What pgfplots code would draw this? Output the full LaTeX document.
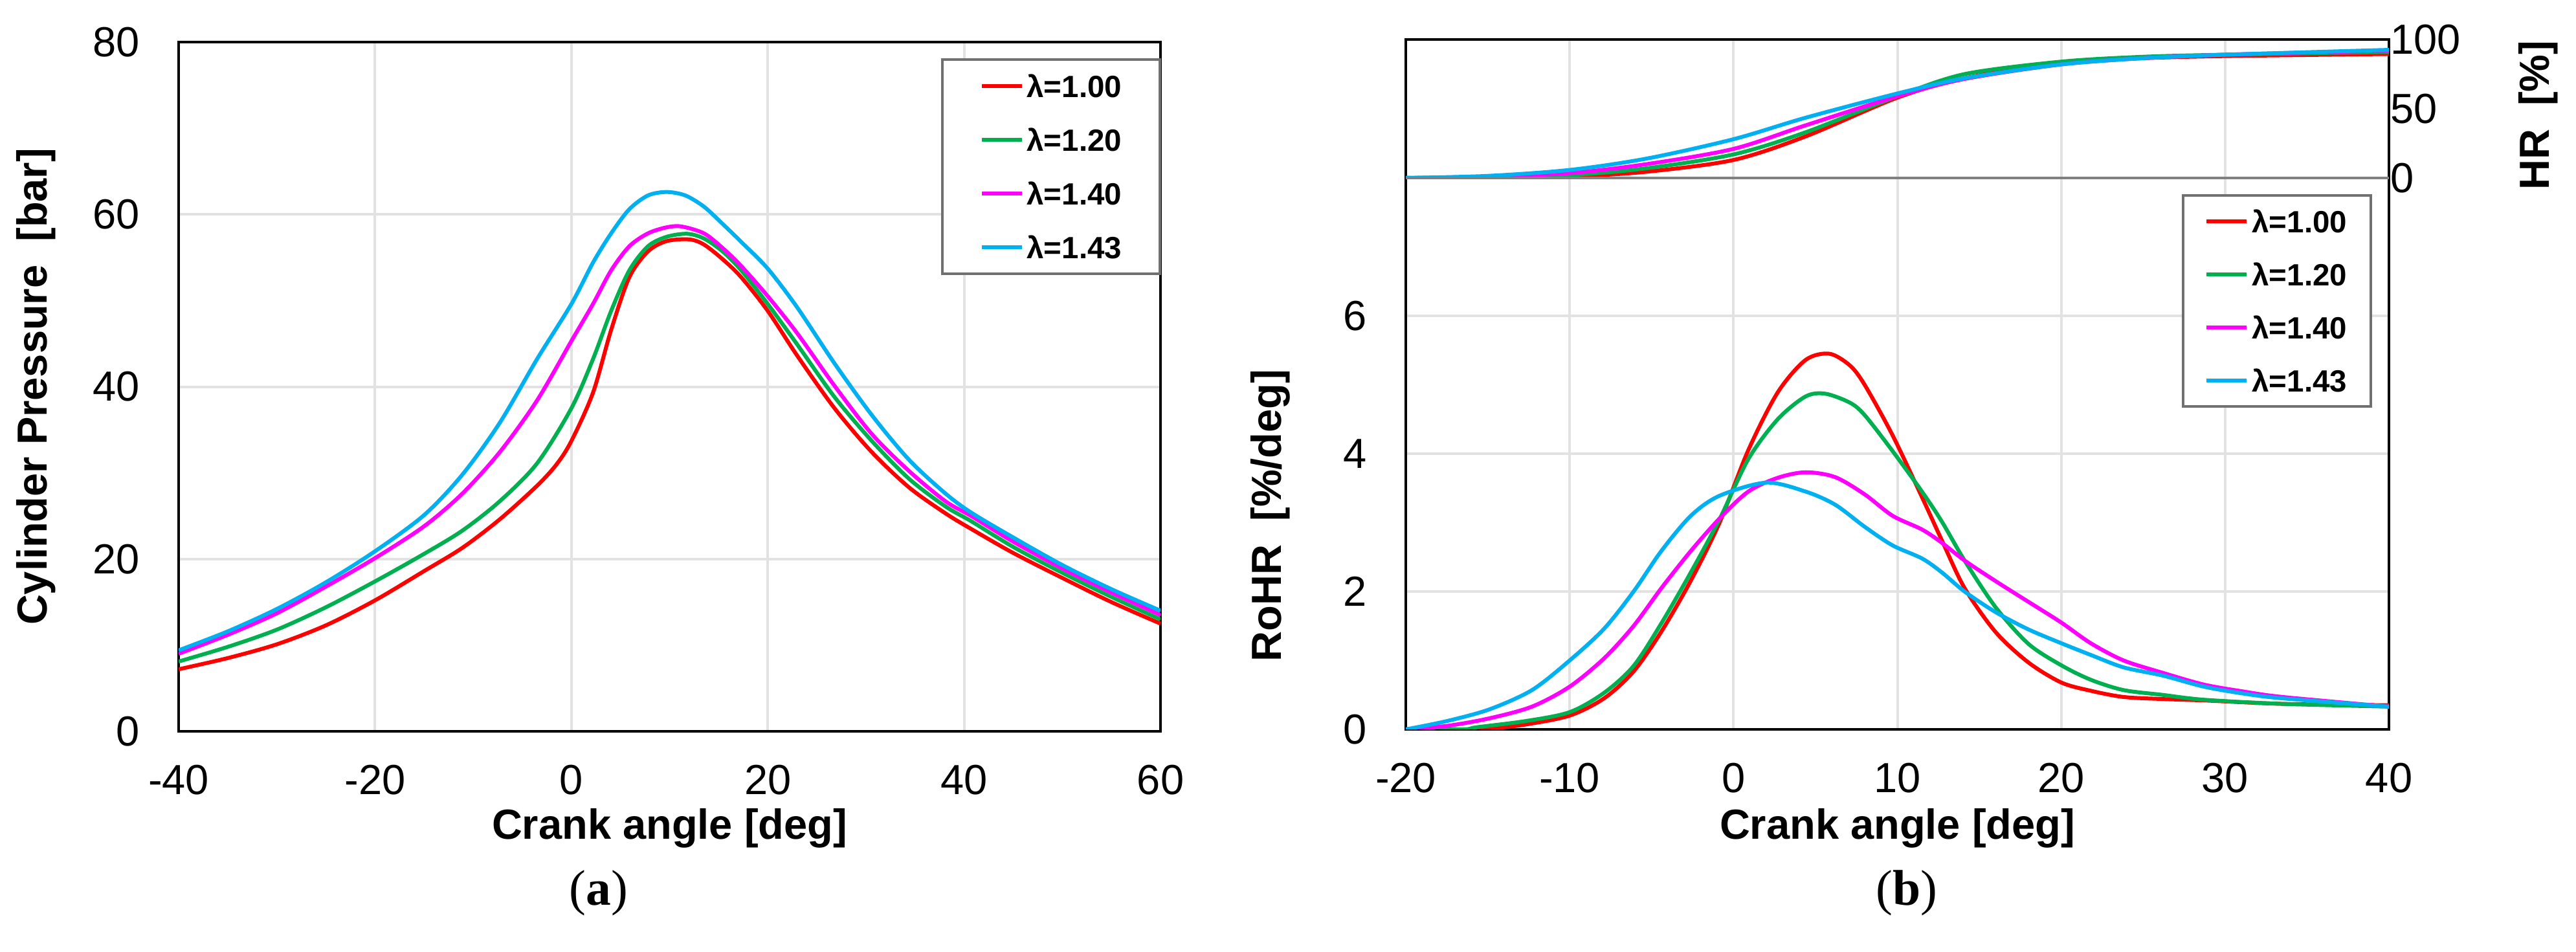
\documentclass[border=0pt]{standalone}
\usepackage{fontspec}
\setmainfont{Liberation Sans}
\newfontfamily\capfont{Liberation Serif}
\usepackage{pgfplots}
\pgfplotsset{compat=1.18}

\definecolor{cRed}{HTML}{FF0000}
\definecolor{cGreen}{HTML}{00B050}
\definecolor{cMag}{HTML}{FF00FF}
\definecolor{cCyan}{HTML}{00B0F0}
\definecolor{gridgray}{HTML}{E2E2E2}
\definecolor{boxgray}{HTML}{707070}
\definecolor{sepgray}{HTML}{808080}

\newcommand\lblfont{\bfseries\fontsize{13}{13}\selectfont}

\pgfplotsset{
  base/.style={
    scale only axis,
    axis line style={black, line width=0.8pt},
    grid style={draw=gridgray, line width=0.8pt},
    major tick length=0pt,
    tick style={draw=none},
    tick label style={font=\fontsize{13}{13}\selectfont},
    xticklabel style={anchor=center, inner sep=0pt, yshift=-15pt},
    yticklabel style={anchor=east, inner sep=0pt, xshift=-11.8pt},
    /pgf/number format/assume math mode=true,
    legend image code/.code={\draw[##1, line width=1.3pt] (0pt,0pt) -- (12.4pt,0pt);},
  },
  crv/.style={line width=1.2pt, smooth, no marks},
}

\begin{document}
\begin{tikzpicture}
\useasboundingbox (0,0) rectangle (796pt,294.2pt);

% (a) cylinder pressure
\begin{axis}[base,
  at={(55.2pt,68.2pt)}, anchor=south west,
  width=303.4pt, height=213pt,
  xmin=-40, xmax=60, ymin=0, ymax=80,
  xtick={-40,-20,...,60}, ytick={0,20,...,80},
  grid=major,
  xlabel={Crank angle [deg]},
  ylabel={Cylinder Pressure\ \ [bar]},
  every axis x label/.style={at={(axis description cs:0.5,-0.141)}, anchor=center, font=\lblfont},
  every axis y label/.style={at={(axis description cs:-0.145,0.5)}, rotate=90, anchor=center, font=\lblfont},
  legend style={at={(0.7765,0.9765)}, anchor=north west,
    draw=boxgray, line width=0.8pt, fill=white,
    inner xsep=11.6pt, inner ysep=4.7pt, row sep=9.6pt, column sep=0.8pt,
    nodes={inner sep=0pt, text height=7pt, text depth=0pt, text width=29.6pt,
      font=\bfseries\fontsize{9.5}{9.5}\selectfont}},
]
\addplot[crv, cRed] coordinates {
(-40,7.2) (-35,8.5) (-30,10.1) (-25,12.3) (-20,15.2) (-15,18.6)
(-11.1,21.3) (-7.3,24.6) (-3.5,28.5) (-1.5,31.0) (0,33.7) (2.2,39.3)
(4.05,46.6) (5.9,52.7) (7.8,55.7) (9.7,56.9) (12.0,57.1) (13.5,56.5) (15.4,54.8)
(17.3,52.7) (20,48.8) (23,43.6) (26.8,37.5) (30.6,32.4) (34.4,28.3) (38.1,25.3)
(40.7,23.5) (45,20.7) (50,17.8) (55,15.0) (60,12.5)};
\addlegendentry{λ=1.00}
\addplot[crv, cGreen] coordinates {
(-40,8.1) (-35,9.8) (-30,11.8) (-25,14.4) (-20,17.4) (-15,20.6)
(-11.1,23.3) (-7.3,26.7) (-3.5,31.1) (0,37.5) (2.2,43.2) (4.05,48.8)
(5.9,53.5) (7.8,56.3) (9.7,57.4) (11.8,57.75) (13.5,57.2) (15.4,55.7) (17.3,53.5)
(20,49.6) (23,44.9) (26.8,38.8) (30.6,33.7) (34.4,29.3) (38.1,26.1) (40.7,24.4)
(45,21.4) (50,18.4) (55,15.6) (60,13.0)};
\addlegendentry{λ=1.20}
\addplot[crv, cMag] coordinates {
(-40,9.0) (-35,11.2) (-30,13.7) (-25,16.8) (-20,20.1) (-15,23.8)
(-11.1,27.6) (-7.3,32.4) (-3.5,38.4) (0,45.3) (2.2,49.6) (4.05,53.5)
(5.9,56.3) (7.8,57.8) (9.7,58.5) (11.2,58.6) (13.5,57.8) (15.4,56.1) (17.3,54.0)
(20,50.5) (23,46.2) (26.8,40.1) (30.6,34.5) (34.4,30.2) (38.1,26.7) (40.7,25.0)
(45,22.0) (50,18.9) (55,16.1) (60,13.5)};
\addlegendentry{λ=1.40}
\addplot[crv, cCyan] coordinates {
(-40,9.4) (-35,11.6) (-30,14.2) (-25,17.3) (-20,20.9) (-15,25.1)
(-11.1,29.8) (-7.3,35.8) (-3.5,43.2) (0,49.6) (2.2,54.4) (4.05,57.8)
(5.9,60.6) (7.8,62.2) (9.7,62.6) (11.6,62.2) (13.5,60.9) (15.4,58.9) (17.3,56.8)
(20,53.7) (23,49.2) (26.8,42.7) (30.6,36.7) (34.4,31.5) (38.1,27.6) (40.7,25.4)
(45,22.5) (50,19.3) (55,16.5) (60,14.0)};
\addlegendentry{λ=1.43}
\end{axis}

% (b) top: heat release
\begin{axis}[base,
  at={(434.4pt,239.2pt)}, anchor=south west,
  width=303.8pt, height=42.8pt,
  xmin=-20, xmax=40, ymin=0, ymax=100,
  xtick={-20,-10,...,40}, xticklabels={},
  ytick={0,50,100},
  xmajorgrids,
  yticklabel pos=right,
  yticklabel style={anchor=west, inner sep=0pt, xshift=12pt},
  ylabel={HR\ \ [\%]},
  every axis y label/.style={at={(axis description cs:1.152,0.453)}, rotate=90, anchor=center, font=\lblfont},
]
\addplot[crv, cRed] coordinates {
(-20,0) (-15,0) (-10,1) (-5.3,4.5) (0,13) (4.4,30) (10,58) (14.1,72) (20,83.5) (25,86.5) (30,88) (40,89.5)};
\addplot[crv, cGreen] coordinates {
(-20,0) (-15,0.3) (-10,2) (-5.3,7) (0,17) (4.4,33) (10,59) (14.1,75) (20,84) (25,87.5) (30,89) (40,91)};
\addplot[crv, cMag] coordinates {
(-20,0) (-15,1) (-10,3.5) (-5.3,10) (0,21) (4.4,38) (10,59) (14.1,71.5) (20,82) (25,86.5) (30,89) (40,92)};
\addplot[crv, cCyan] coordinates {
(-20,0) (-15,1.5) (-10,5.8) (-5.3,14) (0,28) (4.4,43.5) (10,61) (14.1,72) (20,82) (25,86.5) (30,89) (40,92.5)};
\end{axis}

% (b) bottom: rate of heat release
\begin{axis}[base, name=rohr,
  at={(434.4pt,68.8pt)}, anchor=south west,
  width=303.8pt, height=170.4pt,
  xmin=-20, xmax=40, ymin=0, ymax=8,
  xtick={-20,-10,...,40}, ytick={0,2,4,6},
  grid=major,
  xlabel={Crank angle [deg]},
  ylabel={RoHR\ \ [\%/deg]},
  every axis x label/.style={at={(axis description cs:0.5,-0.1796)}, anchor=center, font=\lblfont},
  every axis y label/.style={at={(axis description cs:-0.1376,0.388)}, rotate=90, anchor=center, font=\lblfont},
  legend style={at={(0.7893,0.9707)}, anchor=north west,
    draw=boxgray, line width=0.8pt, fill=white,
    inner xsep=6.6pt, inner ysep=4.5pt, row sep=9.4pt, column sep=1pt,
    nodes={inner sep=0pt, text height=7pt, text depth=0pt, text width=30.2pt,
      font=\bfseries\fontsize{9.5}{9.5}\selectfont}},
]
\addplot[crv, cRed] coordinates {
(-20,0) (-16,0) (-14.9,0.01) (-12.7,0.07) (-10,0.2) (-7.9,0.45) (-6.1,0.84) (-4.4,1.42)
(-2.6,2.16) (-0.85,3.0) (0.9,4.05) (2.7,4.89) (4.4,5.36) (5.85,5.45) (7.1,5.28)
(8.0,5.0) (9.7,4.27) (11.5,3.37) (12.7,2.75) (14.1,2.05) (16,1.41) (18,0.97) (20,0.68)
(21.8,0.56) (23.8,0.47) (26.2,0.44) (28.7,0.42) (33.5,0.37) (40,0.35)};
\addlegendentry{λ=1.00}
\addplot[crv, cGreen] coordinates {
(-20,0) (-16.5,0) (-15.7,0.03) (-12.7,0.12) (-10,0.25) (-7.9,0.53) (-6.1,0.92) (-4.4,1.54)
(-2.6,2.28) (-0.85,3.05) (0.9,3.92) (2.7,4.5) (4.4,4.83) (5.6,4.87) (7.1,4.74)
(8.0,4.56) (9.7,4.04) (11.5,3.45) (12.7,3.02) (14.1,2.45) (16,1.77) (18,1.24) (20,0.93)
(21.8,0.72) (23.8,0.57) (26.2,0.5) (28.7,0.43) (33.5,0.37) (40,0.33)};
\addlegendentry{λ=1.20}
\addplot[crv, cMag] coordinates {
(-20,0) (-17.5,0.05) (-14.9,0.16) (-12.3,0.33) (-10,0.62) (-7.9,1.03) (-6.1,1.5) (-4.4,2.05)
(-2.6,2.59) (-0.85,3.06) (0.9,3.45) (2.7,3.65) (4.4,3.73) (6.2,3.66) (8.0,3.41)
(9.7,3.1) (11.5,2.9) (12.7,2.71) (14.1,2.45) (16,2.15) (18,1.85) (20,1.55) (21.8,1.25)
(23.8,1.0) (26.2,0.82) (28.7,0.65) (31.1,0.55) (33.5,0.47) (40,0.33)};
\addlegendentry{λ=1.40}
\addplot[crv, cCyan] coordinates {
(-20,0) (-17.5,0.12) (-14.9,0.29) (-12.3,0.57) (-10,1.0) (-7.9,1.46) (-6.1,2.0) (-4.4,2.59)
(-2.6,3.1) (-0.85,3.39) (2.0,3.58) (4.4,3.45) (6.2,3.26) (8.0,2.94) (9.7,2.67)
(11.5,2.48) (12.7,2.28) (14.1,2.0) (16,1.7) (18,1.45) (20,1.25) (21.8,1.08) (23.8,0.9)
(26.2,0.78) (28.7,0.62) (31.1,0.52) (33.5,0.45) (40,0.33)};
\addlegendentry{λ=1.43}
\end{axis}

% grey line between the two panels of (b)
\draw[sepgray, line width=0.8pt] (rohr.north west) -- (rohr.north east);

\node[font=\capfont\fontsize{15.5}{15.5}\selectfont] at (185pt,18.2pt) {(\textbf{a})};
\node[font=\capfont\fontsize{15.5}{15.5}\selectfont] at (589.2pt,18.2pt) {(\textbf{b})};
\end{tikzpicture}
\end{document}
